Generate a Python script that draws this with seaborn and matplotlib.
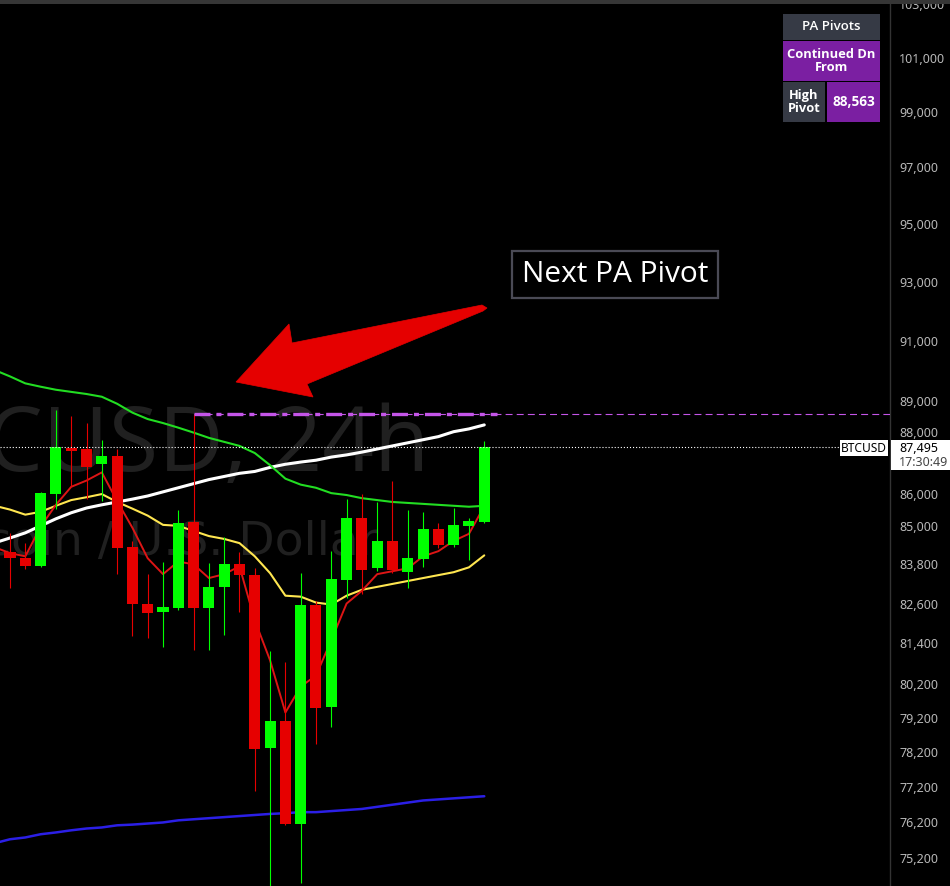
import numpy as np
import pandas as pd
import matplotlib
matplotlib.use("Agg")
import matplotlib.pyplot as plt
import seaborn as sns
from matplotlib.patches import Rectangle, Polygon
from matplotlib.ticker import FixedLocator, FuncFormatter, NullLocator
from matplotlib.transforms import IdentityTransform

# ---------------- data ----------------
opens = [86600, 84180, 83990, 83740, 86000, 87480, 87440, 86950, 87210, 84340,
         82600, 82330, 82480, 85120, 82450, 83110, 83800, 83470, 78320, 79110,
         76170, 82570, 79520, 83320, 85250, 83680, 84530, 83560, 83960, 84900,
         84400, 85000, 85120]
highs = [86830, 84780, 84460, 86060, 88720, 88500, 88280, 87740, 87440, 84530,
         83500, 83860, 85510, 88563, 83830, 84650, 84180, 83680, 81160, 80830,
         83530, 82690, 84210, 85840, 86000, 85750, 86430, 85510, 85440, 85090,
         85560, 85250, 87700]
lows = [84150, 83080, 83650, 83710, 85540, 86260, 85850, 85790, 83500, 81610,
        81550, 81280, 82390, 81190, 81190, 81640, 82330, 77080, 74390, 76140,
        74530, 78440, 78940, 82780, 82900, 83590, 83530, 83080, 83710, 84300,
        84340, 83930, 85090]
closes = [84250, 83990, 83740, 86030, 87510, 87380, 86850, 87210, 84300, 82600,
          82300, 82510, 85090, 82450, 83110, 83800, 83470, 78290, 79110, 76170,
          82570, 79490, 83350, 85250, 83620, 84530, 83620, 83990, 84900, 84400,
          85030, 85150, 87495]

ma_red = [84330, 84150, 84050, 84970, 85660, 86230, 86430, 86690, 85780, 84940,
          83990, 83500, 83890, 83800, 83380, 83500, 83740, 82090, 80890, 79350,
          80110, 80440, 81490, 82600, 82990, 83500, 83590, 83680, 84050, 84210,
          84530, 84750, 85620]
ma_yellow = [85630, 85510, 85350, 85440, 85630, 85810, 85900, 86000, 85750, 85540,
             85320, 85030, 85000, 84840, 84680, 84590, 84460, 84050, 83530, 82840,
             82810, 82630, 82570, 82840, 83020, 83110, 83200, 83290, 83380, 83470,
             83560, 83710, 84080]
ma_green = [90020, 89810, 89580, 89470, 89370, 89300, 89230, 89140, 88910, 88620,
            88410, 88280, 88130, 87970, 87800, 87670, 87540, 87310, 86920, 86490,
            86300, 86200, 86030, 85970, 85870, 85810, 85750, 85720, 85690, 85660,
            85630, 85600, 85630]
ma_white = [84470, 84620, 84780, 85000, 85220, 85410, 85560, 85660, 85750, 85840,
            85940, 86070, 86200, 86330, 86460, 86560, 86660, 86720, 86850, 86950,
            87020, 87080, 87180, 87250, 87340, 87440, 87540, 87640, 87740, 87840,
            88000, 88090, 88220]
ma_blue = [75620, 75730, 75780, 75870, 75920, 75980, 76030, 76060, 76120, 76140,
           76170, 76200, 76260, 76290, 76320, 76350, 76380, 76410, 76440, 76460,
           76490, 76490, 76520, 76550, 76580, 76640, 76700, 76760, 76820, 76850,
           76880, 76910, 76940]

y_ticks = [103000, 101000, 99000, 97000, 95000, 93000, 91000, 89000, 88000,
           86000, 85000, 83800, 82600, 81400, 80200, 79200, 78200, 77200,
           76200, 75200, 74200]
last_price = 87495
last_time = "17:30:49"
pivot_price = 88563
pivot_index = 13
symbol = "BTCUSD"
wm_title = "BTCUSD, 24h"
wm_sub = "Bitcoin / U.S. Dollar"
table_header = "PA Pivots"
table_state = "Continued Dn\nFrom"
table_label = "High\nPivot"
callout = "Next PA Pivot"

df = pd.DataFrame({"i": np.arange(len(opens)), "open": opens, "high": highs,
                   "low": lows, "close": closes, "red": ma_red, "yellow": ma_yellow,
                   "green": ma_green, "white": ma_white, "blue": ma_blue})

# ---------------- figure ----------------
sns.set_theme(style="dark")
plt.rcParams["lines.scale_dashes"] = False
plt.rcParams["font.family"] = ["Open Sans", "DejaVu Sans"]

W, H = 950, 886
fig = plt.figure(figsize=(W / 100, H / 100), dpi=100, facecolor="black")
ax = fig.add_axes([0, 0, 890 / W, 1])
ax.set_facecolor("black")
PX = IdentityTransform()

# watermark
ax.text(429 / 890, 1 - 471 / 886, wm_title, transform=ax.transAxes, ha="right",
        va="baseline", fontsize=65, color="#202020", zorder=0.5)
ax.text(378 / 890, 1 - 555 / 886, wm_sub, transform=ax.transAxes, ha="right",
        va="baseline", fontsize=34, color="#202020", zorder=0.5,
        fontfamily=["DejaVu Sans"])

# moving averages
for col, c, lw in [("blue", "#2b1fe6", 1.8), ("white", "#ffffff", 2.2),
                   ("green", "#22dd22", 1.5), ("yellow", "#ffe650", 1.5),
                   ("red", "#dd1515", 1.4)]:
    sns.lineplot(data=df, x="i", y=col, ax=ax, color=c, lw=lw, zorder=2,
                 legend=False)

# candles
up = df["close"] >= df["open"]
colors = np.where(up, "#00ff00", "#e60000")
ax.vlines(df["i"], df["low"], df["high"], colors=colors, lw=0.8, zorder=3)
ax.bar(df["i"], df["close"] - df["open"], bottom=df["open"], width=0.72,
       color=colors, zorder=3.5, linewidth=0)

ax.set_yscale("log")
ax.set_xlim(0.346, 58.52)
ax.set_ylim(74437, 103170)

# pivot lines
n = len(opens)
ax.plot([pivot_index, 58.52], [pivot_price, pivot_price], color="#c455e8",
        lw=0.8, ls=(0, (5, 3)), zorder=4)
ax.plot([pivot_index, n - 0.2], [pivot_price, pivot_price], color="#c455e8",
        lw=2.4, ls=(0, (11.5, 4.3, 3.6, 4.3)), solid_capstyle="butt", zorder=4.5)

# last price dotted line
ax.plot([0.346, 0.346 + (58.52 - 0.346) * 840 / 890], [last_price, last_price],
        color="white", lw=0.8, ls=(0, (0.8, 1.4)), zorder=4)

# axes styling
ax.set_xticks([])
ax.set_xlabel("")
ax.set_ylabel("")
ax.yaxis.tick_right()
ax.yaxis.set_major_locator(FixedLocator(y_ticks))
ax.yaxis.set_minor_locator(NullLocator())
ax.yaxis.set_major_formatter(FuncFormatter(lambda v, p: f"{v:,.0f}"))
ax.tick_params(axis="y", length=0, pad=6.5, labelsize=9, labelcolor="#b8b8b8")
for lab in ax.get_yticklabels():
    lab.set_fontfamily(["Noto Sans", "DejaVu Sans"])
ax.grid(False)
for s in ["top", "bottom", "left"]:
    ax.spines[s].set_visible(False)
ax.spines["right"].set_color("#333333")
ax.spines["right"].set_linewidth(1)


def rect(x0, y0, x1, y1, fc, ec="none", lw=0, z=10):
    fig.add_artist(Rectangle((x0, H - y1), x1 - x0, y1 - y0, transform=PX,
                             facecolor=fc, edgecolor=ec, linewidth=lw, zorder=z))


def txt(x, y, s, **kw):
    kw.setdefault("zorder", 11)
    fig.text(x, H - y, s, transform=PX, **kw)


# top bar
rect(0, 0, W, 4, "#363636")

# red arrow
arrow_px = [(236, 382), (289, 324), (292, 343), (482, 305), (487, 308),
            (483, 311), (307, 384), (313, 397)]
fig.add_artist(Polygon([(x, H - y) for x, y in arrow_px], closed=True,
                       transform=PX, facecolor="#e50000", edgecolor="#e50000",
                       lw=0.5, zorder=9))

# callout label
rect(512, 251, 718, 298, "black", ec="#4a4a55", lw=1.6)
txt(615, 275, callout, color="white", fontsize=21.5, ha="center", va="center")

# table
rect(783, 14, 880, 40, "#363a45")
txt(831.5, 27, table_header, color="white", fontsize=9.5, ha="center",
    va="center", fontweight="semibold")
rect(783, 41, 880, 81, "#7b1fa2")
txt(831.5, 61, table_state, color="white", fontsize=9.3, ha="center", va="center",
    linespacing=0.95, fontweight="bold")
rect(783, 82, 825, 122, "#363a45")
txt(804, 102, table_label, color="white", fontsize=9.3, ha="center", va="center",
    linespacing=0.95, fontweight="bold")
rect(827, 82, 880, 122, "#7b1fa2")
txt(853.5, 102, f"{pivot_price:,}", color="white", fontsize=9.8, ha="center",
    va="center", fontweight="bold")

# price labels
rect(840, 440, 888, 456, "white")
txt(864, 448.5, symbol, color="black", fontsize=8.6, ha="center", va="center",
    fontfamily=["Noto Sans", "DejaVu Sans"])
rect(891, 440, 950, 470, "white")
txt(899, 448.5, f"{last_price:,}", color="black", fontsize=9, ha="left",
    va="center", fontfamily=["Noto Sans", "DejaVu Sans"])
txt(899, 462, last_time, color="#444444", fontsize=9, ha="left", va="center",
    fontfamily=["Noto Sans", "DejaVu Sans"])

fig.savefig("out.png", dpi=100, facecolor="black")
